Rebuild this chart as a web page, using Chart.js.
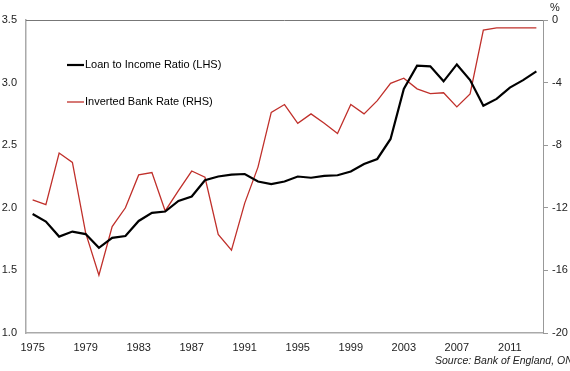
<!DOCTYPE html>
<html>
<head>
<meta charset="utf-8">
<script src="https://cdn.jsdelivr.net/npm/chart.js@4"></script>
<style>
  html, body { margin: 0; padding: 0; background: #fff; }
  #wrap { width: 570px; height: 371px; position: relative; }
</style>
</head>
<body>
<div id="wrap"><canvas id="lineChart"></canvas></div>
<script>
var years = [];
for (var y = 1975; y <= 2013; y++) years.push(String(y));

var loanToIncome = [1.95, 1.89, 1.77, 1.81, 1.79, 1.68, 1.76, 1.775, 1.895, 1.96,
    1.97, 2.055, 2.09, 2.22, 2.25, 2.265, 2.27, 2.21, 2.19, 2.21,
    2.25, 2.24, 2.255, 2.26, 2.29, 2.35, 2.39, 2.55, 2.95, 3.135,
    3.13, 3.01, 3.145, 3.02, 2.815, 2.87, 2.96, 3.02, 3.09];

var invertedBankRate = [-11.5, -11.8, -8.5, -9.1, -13.6, -16.3, -13.2, -12.0, -9.9, -9.75,
    -12.2, -10.9, -9.65, -10.05, -13.7, -14.7, -11.7, -9.4, -5.9, -5.4,
    -6.6, -6.0, -6.6, -7.25, -5.4, -6.0, -5.15, -4.05, -3.72, -4.4,
    -4.7, -4.65, -5.55, -4.72, -0.65, -0.5, -0.5, -0.5, -0.5];

var leftTicks = [1.0, 1.5, 2.0, 2.5, 3.0, 3.5];
var rightTicks = [-20, -16, -12, -8, -4, 0];

var FONT = 'Liberation Sans, Arial, sans-serif';

var extras = {
    id: 'extras',
    afterDraw: function (chart) {
        var c = chart.ctx, a = chart.chartArea;
        c.save();
        // top frame line
        c.strokeStyle = '#777';
        c.lineWidth = 1;
        c.beginPath();
        c.moveTo(a.left, a.top + 0.5);
        c.lineTo(a.right, a.top + 0.5);
        c.stroke();
        // legend inside the plot
        var items = chart.data.datasets;
        var ly = [65, 102];
        c.font = '11px ' + FONT;
        c.textBaseline = 'middle';
        for (var i = 0; i < items.length; i++) {
            c.strokeStyle = items[i].borderColor;
            c.lineWidth = items[i].borderWidth;
            c.beginPath();
            c.moveTo(67, ly[i]);
            c.lineTo(84, ly[i]);
            c.stroke();
            c.fillStyle = '#000';
            c.fillText(items[i].label, 85, ly[i]);
        }
        // % unit label on right axis
        c.fillStyle = '#222';
        c.textAlign = 'center';
        c.fillText('%', 555, 8);
        // source note
        c.font = 'italic 10.5px ' + FONT;
        c.textAlign = 'left';
        c.fillStyle = '#222';
        c.fillText('Source: Bank of England, ONS', 435, 361);
        c.restore();
    }
};

var ctx = document.getElementById('lineChart').getContext('2d');
var myChart = new Chart(ctx, {
    type: 'line',
    data: {
        labels: years,
        datasets: [{
            label: 'Loan to Income Ratio (LHS)',
            data: loanToIncome,
            borderColor: '#000000',
            backgroundColor: '#000000',
            borderWidth: 2.2,
            pointRadius: 0,
            tension: 0,
            yAxisID: 'y'
        }, {
            label: 'Inverted Bank Rate (RHS)',
            data: invertedBankRate,
            borderColor: '#c0302b',
            backgroundColor: '#c0302b',
            borderWidth: 1.3,
            pointRadius: 0,
            tension: 0,
            yAxisID: 'y1'
        }]
    },
    options: {
        responsive: true,
        maintainAspectRatio: false,
        animation: false,
        layout: { padding: { top: 20, left: 0, right: 0, bottom: 0 } },
        plugins: {
            legend: { display: false },
            tooltip: { enabled: false }
        },
        scales: {
            x: {
                offset: true,
                grid: { display: false, drawTicks: false },
                border: { display: true, color: '#aaa', width: 1.5 },
                ticks: {
                    autoSkip: false,
                    maxRotation: 0,
                    padding: 8,
                    color: '#222',
                    font: { family: FONT, size: 11 },
                    callback: function (v, i) {
                        return (i % 4 === 0) ? years[i] : '';
                    }
                },
                afterFit: function (s) { s.height = 38; }
            },
            y: {
                position: 'left',
                min: 1.0,
                max: 3.5,
                grid: { display: false, drawTicks: false },
                border: { display: true, color: '#aaa', width: 1.5 },
                afterBuildTicks: function (s) {
                    s.ticks = leftTicks.map(function (v) { return { value: v }; });
                },
                ticks: {
                    padding: 9,
                    color: '#222',
                    font: { family: FONT, size: 11 },
                    callback: function (v) { return v.toFixed(1); }
                },
                afterFit: function (s) { s.width = 26; }
            },
            y1: {
                position: 'right',
                min: -20,
                max: 0,
                grid: { display: true, drawOnChartArea: false, drawTicks: true, tickLength: 5, color: '#999' },
                border: { display: true, color: '#999', width: 1 },
                afterBuildTicks: function (s) {
                    s.ticks = rightTicks.map(function (v) { return { value: v }; });
                },
                ticks: {
                    padding: 4,
                    color: '#222',
                    font: { family: FONT, size: 11 }
                },
                afterFit: function (s) { s.width = 27; }
            }
        }
    },
    plugins: [extras]
});
</script>
</body>
</html>
